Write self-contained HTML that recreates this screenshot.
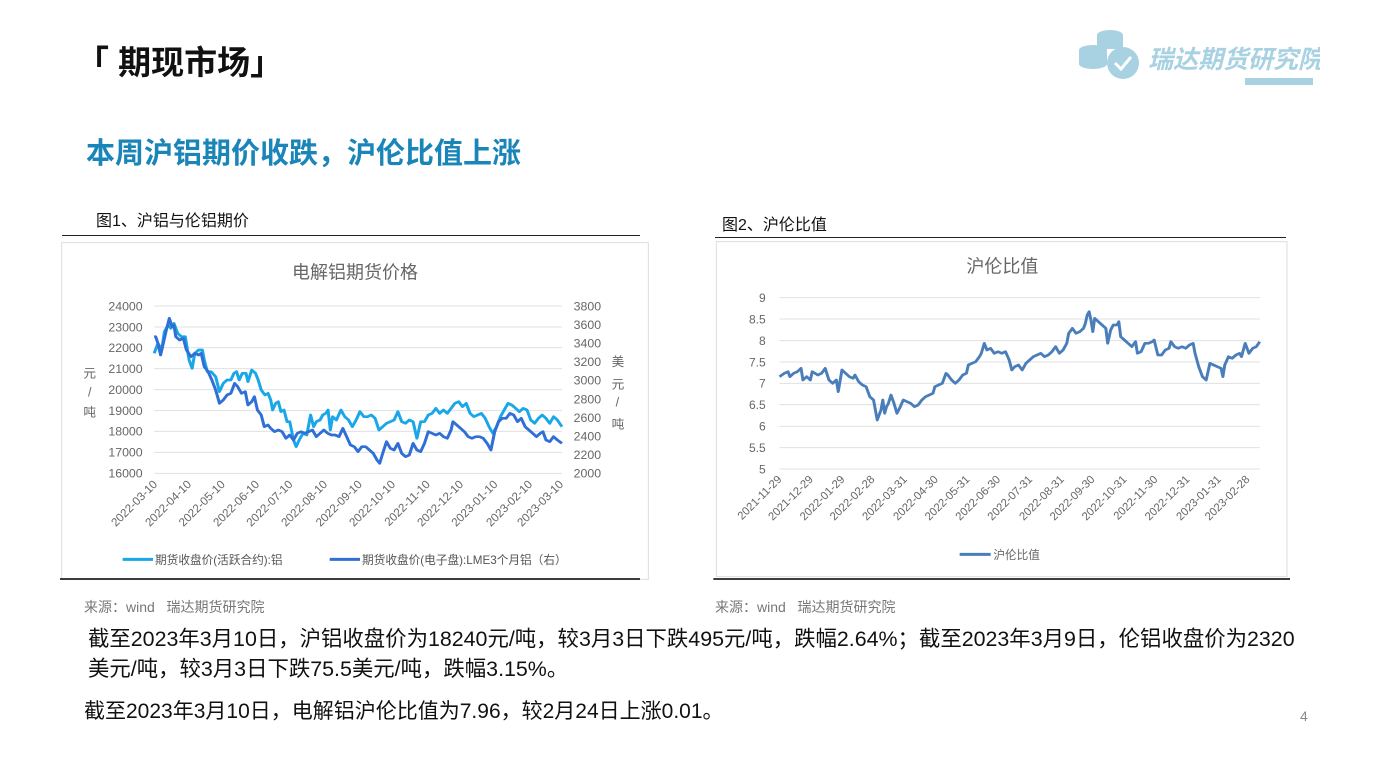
<!DOCTYPE html>
<html><head><meta charset="utf-8"><style>
body{margin:0;width:1387px;height:780px;background:#fff;position:relative;overflow:hidden;font-family:"Liberation Sans","Noto Sans CJK SC",sans-serif}
.a{position:absolute;white-space:nowrap}
</style></head><body>
<div class="a" style="left:76px;top:36px;font-size:33px;font-weight:bold;color:#111">「 期现市场」</div>
<div class="a" style="left:86px;top:130px;font-size:29px;font-weight:bold;color:#1a85b8">本周沪铝期价收跌，沪伦比值上涨</div>
<svg class="a" style="left:1075px;top:25px" width="245" height="62">
<g fill="#a8d2e2"><ellipse cx="35" cy="10" rx="13" ry="5"/><rect x="22" y="10" width="26" height="14"/><ellipse cx="18" cy="25" rx="14" ry="5"/><rect x="4" y="25" width="28" height="14"/><ellipse cx="18" cy="39" rx="14" ry="5"/><circle cx="48" cy="38" r="16"/></g>
<path d="M40 38l6 6 10-12" stroke="#fff" stroke-width="3" fill="none"/>
<text x="73" y="43" font-size="25" font-weight="bold" font-style="italic" fill="#a8d2e2" font-family="Liberation Sans,Noto Sans CJK SC,sans-serif">瑞达期货研究院</text>
<rect x="170" y="53" width="68" height="7" fill="#a8d2e2"/></svg>
<div class="a" style="left:96px;top:207px;font-size:16px;color:#111">图1、沪铝与伦铝期价</div>
<div class="a" style="left:62px;top:235px;width:578px;border-top:1.5px solid #222"></div>
<div class="a" style="left:722px;top:211px;font-size:16px;color:#111">图2、沪伦比值</div>
<div class="a" style="left:715px;top:237px;width:571px;border-top:1.5px solid #222"></div>
<svg class="a" style="left:60px;top:240px" width="590" height="340" viewBox="0 0 1770 1020" font-family="Liberation Sans,Noto Sans CJK SC,sans-serif">
<rect x="5" y="8" width="1760" height="1010" fill="none" stroke="#ddd" stroke-width="3"/>
<line x1="0" y1="1017" x2="1740" y2="1017" stroke="#222" stroke-width="5"/>
<text x="885" y="115" font-size="54" fill="#666" text-anchor="middle">电解铝期货价格</text>
<g font-size="37" fill="#666" text-anchor="end"><text x="248" y="211">24000</text><text x="248" y="274">23000</text><text x="248" y="336">22000</text><text x="248" y="399">21000</text><text x="248" y="462">20000</text><text x="248" y="525">19000</text><text x="248" y="587">18000</text><text x="248" y="650">17000</text><text x="248" y="713">16000</text></g>
<g font-size="37" fill="#666"><text x="1541" y="211">3800</text><text x="1541" y="267">3600</text><text x="1541" y="323">3400</text><text x="1541" y="378">3200</text><text x="1541" y="434">3000</text><text x="1541" y="490">2800</text><text x="1541" y="546">2600</text><text x="1541" y="602">2400</text><text x="1541" y="657">2200</text><text x="1541" y="713">2000</text></g>
<g font-size="38" fill="#666"><text x="70" y="412">元</text><text x="84" y="470">/</text><text x="70" y="530">吨</text><text x="1655" y="378">美</text><text x="1655" y="445">元</text><text x="1667" y="500">/</text><text x="1655" y="565">吨</text></g>
<g font-size="35" fill="#666" text-anchor="end">
<text transform="translate(294,735) rotate(-45)">2022-03-10</text><text transform="translate(396,735) rotate(-45)">2022-04-10</text><text transform="translate(497,735) rotate(-45)">2022-05-10</text><text transform="translate(600,735) rotate(-45)">2022-06-10</text><text transform="translate(700,735) rotate(-45)">2022-07-10</text><text transform="translate(804,735) rotate(-45)">2022-08-10</text><text transform="translate(908,735) rotate(-45)">2022-09-10</text><text transform="translate(1008,735) rotate(-45)">2022-10-10</text><text transform="translate(1112,735) rotate(-45)">2022-11-10</text><text transform="translate(1212,735) rotate(-45)">2022-12-10</text><text transform="translate(1315,735) rotate(-45)">2023-01-10</text><text transform="translate(1419,735) rotate(-45)">2023-02-10</text><text transform="translate(1512,735) rotate(-45)">2023-03-10</text></g>
<g transform="scale(1.139,1)">
<g stroke="#e0e0e0" stroke-width="3"><line x1="248" x2="1322" y1="198" y2="198"/><line x1="248" x2="1322" y1="261" y2="261"/><line x1="248" x2="1322" y1="323" y2="323"/><line x1="248" x2="1322" y1="386" y2="386"/><line x1="248" x2="1322" y1="449" y2="449"/><line x1="248" x2="1322" y1="512" y2="512"/><line x1="248" x2="1322" y1="574" y2="574"/><line x1="248" x2="1322" y1="637" y2="637"/><line x1="248" x2="1322" y1="700" y2="700"/></g>
<polyline fill="none" stroke="#1aa7e8" stroke-width="8" stroke-linejoin="round" points="248,340 258,310 268,330 275,275 285,255 292,265 300,250 310,280 320,290 330,290 340,360 348,385 355,340 365,330 375,330 380,360 388,395 398,395 410,410 420,455 430,430 440,420 450,420 458,400 465,395 472,420 480,400 490,400 495,425 505,390 515,400 522,420 530,450 540,465 548,460 555,480 560,510 568,490 575,485 582,515 590,510 598,545 605,545 615,600 622,620 630,600 640,580 650,585 660,525 668,560 675,545 685,540 692,525 700,520 706,510 712,570 718,530 728,540 740,510 750,530 760,540 770,560 780,540 790,515 800,530 810,530 820,525 830,535 840,570 850,560 860,550 870,545 880,540 890,515 900,545 910,550 920,540 930,545 940,595 950,545 960,545 970,525 980,520 990,505 1000,520 1010,510 1020,520 1030,505 1040,490 1050,485 1060,500 1070,490 1080,520 1090,530 1100,525 1110,520 1120,535 1130,560 1140,580 1150,560 1160,530 1170,510 1180,490 1190,495 1200,505 1210,515 1220,505 1230,510 1240,540 1250,550 1260,535 1270,525 1280,535 1290,550 1300,530 1310,540 1322,560"/>
<polyline fill="none" stroke="#2f6fd6" stroke-width="8" stroke-linejoin="round" points="248,290 252,290 258,310 265,345 272,310 280,270 288,235 295,260 300,255 305,290 315,300 325,295 333,330 345,350 355,340 365,345 372,340 380,380 390,395 400,420 410,450 420,490 430,480 440,465 450,460 460,430 468,440 478,460 488,455 495,495 505,485 512,470 520,510 530,525 538,560 548,555 555,565 565,575 575,570 585,575 595,595 605,585 615,600 625,580 635,575 645,580 655,575 665,570 675,590 685,580 695,570 705,580 715,585 725,585 735,590 745,565 755,590 765,615 775,620 785,635 795,620 805,620 815,630 825,640 835,660 842,670 850,640 860,605 870,625 880,630 890,610 900,640 910,650 920,645 930,610 940,630 950,635 960,610 970,575 980,580 990,585 1000,580 1010,590 1020,595 1030,570 1035,545 1045,555 1055,565 1065,575 1075,590 1085,595 1095,590 1105,590 1115,595 1125,610 1135,630 1145,575 1155,545 1165,535 1175,535 1185,520 1195,525 1205,545 1215,535 1225,560 1235,570 1245,580 1255,590 1265,580 1272,575 1280,600 1290,605 1300,590 1310,600 1322,610"/>
</g>
<line x1="188" y1="958" x2="279" y2="958" stroke="#1aa7e8" stroke-width="9"/><text x="285" y="972" font-size="35" fill="#555">期货收盘价(活跃合约):铝</text>
<line x1="809" y1="958" x2="900" y2="958" stroke="#2f6fd6" stroke-width="9"/><text x="906" y="972" font-size="35" fill="#555">期货收盘价(电子盘):LME3个月铝（右）</text>
</svg>
<svg class="a" style="left:710px;top:240px" width="580" height="340" viewBox="0 0 1740 1020" font-family="Liberation Sans,Noto Sans CJK SC,sans-serif">
<rect x="19" y="5" width="1712" height="1005" fill="none" stroke="#ddd" stroke-width="3"/>
<line x1="10" y1="1017" x2="1740" y2="1017" stroke="#222" stroke-width="5"/>
<text x="877" y="98" font-size="54" fill="#666" text-anchor="middle">沪伦比值</text>
<g font-size="36" fill="#666" text-anchor="end"><text x="167" y="186">9</text><text x="167" y="250">8.5</text><text x="167" y="315">8</text><text x="167" y="379">7.5</text><text x="167" y="443">7</text><text x="167" y="507">6.5</text><text x="167" y="572">6</text><text x="167" y="636">5.5</text><text x="167" y="700">5</text></g>
<g font-size="34" fill="#666" text-anchor="end">
<text transform="translate(217,720) rotate(-45)">2021-11-29</text><text transform="translate(311,720) rotate(-45)">2021-12-29</text><text transform="translate(406,720) rotate(-45)">2022-01-29</text><text transform="translate(496,720) rotate(-45)">2022-02-28</text><text transform="translate(593,720) rotate(-45)">2022-03-31</text><text transform="translate(686,720) rotate(-45)">2022-04-30</text><text transform="translate(781,720) rotate(-45)">2022-05-31</text><text transform="translate(873,720) rotate(-45)">2022-06-30</text><text transform="translate(969,720) rotate(-45)">2022-07-31</text><text transform="translate(1064,720) rotate(-45)">2022-08-31</text><text transform="translate(1156,720) rotate(-45)">2022-09-30</text><text transform="translate(1252,720) rotate(-45)">2022-10-31</text><text transform="translate(1345,720) rotate(-45)">2022-11-30</text><text transform="translate(1441,720) rotate(-45)">2022-12-31</text><text transform="translate(1535,720) rotate(-45)">2023-01-31</text><text transform="translate(1621,720) rotate(-45)">2023-02-28</text></g>
<g transform="scale(1.115,1)">
<g stroke="#e0e0e0" stroke-width="3"><line x1="187" x2="1479" y1="173" y2="173"/><line x1="187" x2="1479" y1="237" y2="237"/><line x1="187" x2="1479" y1="302" y2="302"/><line x1="187" x2="1479" y1="366" y2="366"/><line x1="187" x2="1479" y1="430" y2="430"/><line x1="187" x2="1479" y1="494" y2="494"/><line x1="187" x2="1479" y1="559" y2="559"/><line x1="187" x2="1479" y1="623" y2="623"/><line x1="187" x2="1479" y1="687" y2="687"/></g>
<polyline fill="none" stroke="#4a7ebb" stroke-width="8" stroke-linejoin="round" points="187,410 200,400 210,395 215,410 225,400 235,395 245,385 250,420 260,410 270,420 275,395 290,405 300,400 310,385 320,420 330,430 340,420 345,455 355,390 365,400 375,410 385,415 390,405 400,425 410,435 420,440 430,470 440,480 450,540 455,525 460,510 465,480 470,520 475,500 480,490 487,465 495,490 503,520 510,505 520,480 530,485 540,490 550,500 560,495 570,480 580,470 590,465 600,460 605,440 615,435 625,430 635,400 640,405 650,420 660,430 670,420 680,405 690,400 695,375 705,370 715,365 725,350 730,340 738,310 745,330 755,325 765,340 775,335 785,340 795,335 805,360 812,390 820,380 830,375 840,390 850,370 860,360 870,350 880,345 890,340 900,350 910,345 920,335 930,320 940,340 950,330 960,310 965,280 975,265 985,280 995,275 1005,265 1010,250 1015,225 1020,215 1025,240 1030,275 1035,235 1045,245 1055,255 1065,265 1070,310 1078,270 1085,255 1095,255 1100,245 1105,290 1115,300 1125,310 1135,320 1145,305 1150,340 1160,335 1170,310 1180,310 1190,305 1195,300 1205,345 1215,345 1225,330 1235,325 1240,305 1250,320 1260,325 1270,320 1280,325 1290,315 1300,310 1305,340 1315,380 1325,410 1335,420 1345,370 1355,375 1365,380 1375,385 1380,410 1385,375 1395,350 1405,355 1415,345 1425,340 1430,350 1440,310 1450,340 1460,325 1470,320 1479,305"/>
</g>
<line x1="749" y1="943" x2="842" y2="943" stroke="#4a7ebb" stroke-width="9"/><text x="850" y="957" font-size="35" fill="#666">沪伦比值</text>
</svg>
<div class="a" style="left:84px;top:597px;font-size:14px;color:#777">来源：wind &nbsp; 瑞达期货研究院</div>
<div class="a" style="left:715px;top:597px;font-size:14px;color:#777">来源：wind &nbsp; 瑞达期货研究院</div>
<div class="a" style="left:88px;top:624px;font-size:21.4px;color:#111;line-height:30px">截至2023年3月10日，沪铝收盘价为18240元/吨，较3月3日下跌495元/吨，跌幅2.64%；截至2023年3月9日，伦铝收盘价为2320<br>美元/吨，较3月3日下跌75.5美元/吨，跌幅3.15%。</div>
<div class="a" style="left:84px;top:695px;font-size:21px;color:#111">截至2023年3月10日，电解铝沪伦比值为7.96，较2月24日上涨0.01。</div>
<div class="a" style="left:1300px;top:708px;font-size:14px;color:#888">4</div>
</body></html>
